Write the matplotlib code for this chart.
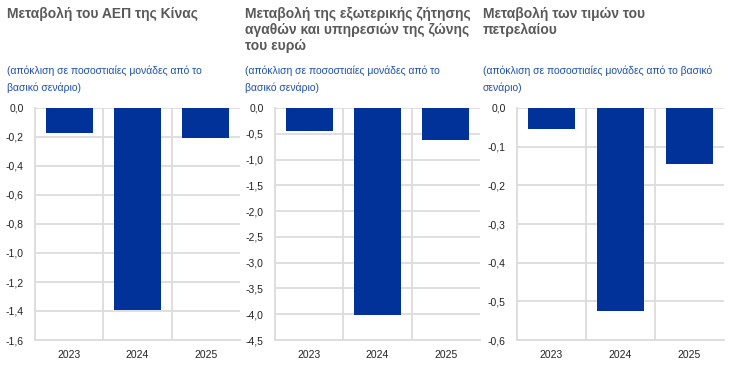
import matplotlib
matplotlib.use("Agg")
import matplotlib.pyplot as plt
from matplotlib.ticker import FuncFormatter, MultipleLocator

plt.rcParams['font.family'] = ['Liberation Sans', 'DejaVu Sans']

years = ["2023", "2024", "2025"]
china_gdp = [-0.17, -1.39, -0.21]
ext_demand = [-0.44, -4.02, -0.63]
oil_prices = [-0.055, -0.525, -0.145]

titles = ["Μεταβολή του ΑΕΠ της Κίνας",
          "Μεταβολή της εξωτερικής ζήτησης\nαγαθών και υπηρεσιών της ζώνης\nτου ευρώ",
          "Μεταβολή των τιμών του\nπετρελαίου"]
subtitles = ["(απόκλιση σε ποσοστιαίες μονάδες από το\nβασικό σενάριο)",
             "(απόκλιση σε ποσοστιαίες μονάδες από το\nβασικό σενάριο)",
             "(απόκλιση σε ποσοστιαίες μονάδες από το βασικό\nσενάριο)"]
series = [china_gdp, ext_demand, oil_prices]
ylims = [(-1.6, 0.0), (-4.5, 0.0), (-0.6, 0.0)]
steps = [0.2, 0.5, 0.1]

W, H = 744, 370
fig = plt.figure(figsize=(W / 100, H / 100), dpi=100)

axes_px = [(35, 205), (275, 205), (517, 207)]
title_x = [7, 245, 483]
top, bottom = 108, 340
bar_color = "#003299"
grid_color = "#dcdcdc"

fmt = FuncFormatter(lambda v, p: f"{v:.1f}".replace(".", ",").replace("-0,0", "0,0"))

for i in range(3):
    l, w = axes_px[i]
    ax = fig.add_axes([l / W, (H - bottom) / H, w / W, (bottom - top) / H])
    x = list(range(len(years)))
    ax.bar(x, series[i], width=0.69, color=bar_color, zorder=3)
    ax.set_xlim(-0.5, 2.5)
    ax.set_ylim(*ylims[i])
    ax.yaxis.set_major_locator(MultipleLocator(steps[i]))
    ax.yaxis.set_major_formatter(fmt)
    ax.set_xticks(x)
    ax.set_xticklabels(years)
    ax.grid(axis='y', color=grid_color, linewidth=1.3, zorder=0)
    for b in [0.5, 1.5]:
        ax.axvline(b, color=grid_color, linewidth=1.3, zorder=0)
    for s in ['top', 'right']:
        ax.spines[s].set_visible(False)
    ax.spines['left'].set_color(grid_color)
    ax.spines['left'].set_linewidth(1.3)
    ax.spines['bottom'].set_color(grid_color)
    ax.spines['bottom'].set_linewidth(1.3)
    ax.tick_params(axis='both', length=0, labelsize=7.5, colors="#222222")
    ax.tick_params(axis='y', pad=8)
    ax.tick_params(axis='x', pad=7)
    ax.set_axisbelow(True)

    fig.text(title_x[i] / W, 1 - 7 / H, titles[i], fontsize=10, fontweight='bold',
             color="#595959", va='top', ha='left', linespacing=1.2)
    fig.text(title_x[i] / W, 1 - 66 / H, subtitles[i], fontsize=7.5, color="#1f4fb4",
             va='top', ha='left', linespacing=1.65)

fig.savefig("out.png", dpi=100)
